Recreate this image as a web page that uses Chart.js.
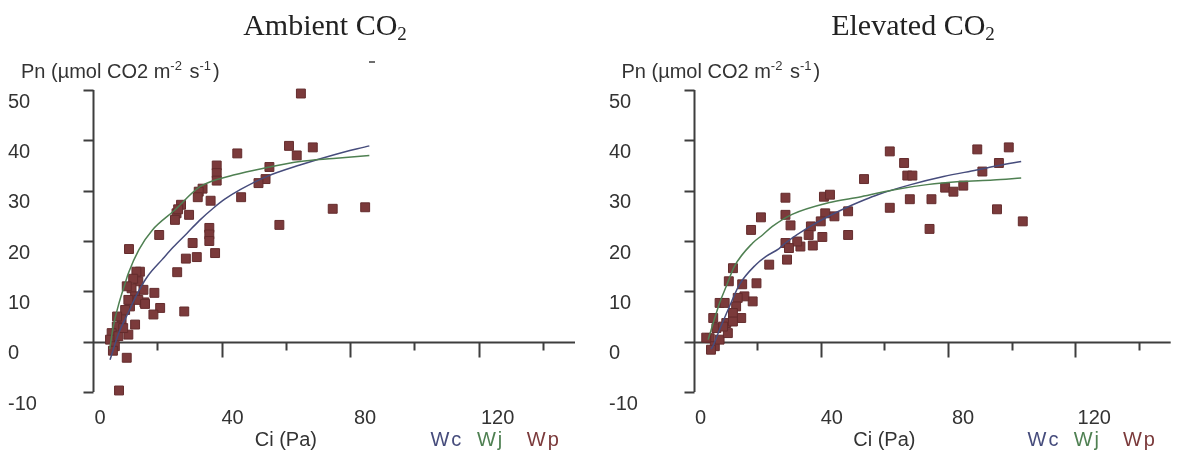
<!DOCTYPE html>
<html>
<head>
<meta charset="utf-8">
<title>Pn vs Ci</title>
<script src="https://cdn.jsdelivr.net/npm/chart.js@4.4.1/dist/chart.umd.min.js"></script>
<style>
  body { margin: 0; background: #fff; }
  #wrap { position: relative; width: 1178px; height: 456px; overflow: hidden; }
  .panel { position: absolute; top: 0; width: 589px; height: 456px; }
</style>
</head>
<body>
<div id="wrap">
  <div class="panel" style="left:0"><canvas id="ambChart" width="589" height="456"></canvas></div>
  <div class="panel" style="left:589px"><canvas id="eleChart" width="589" height="456"></canvas></div>
</div>
<script>
// tick labels
const yTicks = [-10, 0, 10, 20, 30, 40, 50];
const xTicks = [20, 40, 60, 80, 100, 120, 140];
const xLabels = [0, 40, 80, 120];

// Ambient CO2 - measured points
const ambCi = [64.7, 61, 68.4, 63.4, 44.9, 38.5, 38.5, 38.5, 54.9, 53.7, 51.5, 46.1, 36.6, 34.1, 32.9, 32.6,
  27.4, 26, 25.5, 29.9, 36.2, 36.2, 36.2, 58, 74.6, 84.7, 31, 28.9, 32.3, 38, 20.6, 11.2, 14.6, 13.5, 26.2,
  19.1, 20.9, 18.8, 28.4, 16, 13.1, 11, 10.5, 8.1, 14.1, 12, 15.7, 13.1, 11.5, 10, 8.9, 7.4, 5.8, 5.3, 6.8,
  7.9, 9.4, 11, 14.1, 16.2, 26.5, 12.5, 10.5, 7.5, 6.2];
const ambPn = [49.3, 38.9, 38.6, 37, 37.4, 35, 33.5, 32, 34.7, 32.3, 31.5, 28.7, 28, 30.4, 29.8, 28.7,
  27.2, 25.5, 24.2, 25.2, 22.6, 21.3, 20, 23.2, 26.4, 26.7, 19.6, 16.5, 16.8, 17.6, 21.2, 18.4, 13.9, 13.9, 13.8,
  9.7, 6.7, 5.4, 6.0, 7.8, 3.4, 1.4, -3.2, -9.7, 12, 10.6, 10.3, 9, 7, 6.3, 4.4, 3, 1.7, 0.4, -0.9,
  1.1, 2.7, 8.3, 8.3, 7.5, 26.3, 12.5, 11, 5, -1.8];

// Ambient CO2 - fitted curves
const ambWcCi = [5.3, 6, 8, 11, 14, 17, 21.5, 25, 29.2, 33, 37.4, 41, 45.8, 54, 64.4, 74.8, 86];
const ambWcPn = [-3.6, -2.2, 1.7, 5.8, 9.8, 13, 16.3, 18.8, 21.5, 24, 26.5, 28.3, 30.2, 32.8, 35.1, 37.1, 38.9];
const ambWjCi = [5.2, 6.3, 7.9, 10, 11, 14.3, 18.5, 25.2, 33.3, 43.7, 54.9, 64.4, 74.8, 86];
const ambWjPn = [-1.5, 3, 7.2, 11.6, 13.6, 18.3, 22.2, 26, 30.8, 33.1, 34.7, 35.8, 36.4, 37];

// Elevated CO2 - measured points
const eleCi = [61.7, 66.2, 67.2, 68.8, 68, 61.7, 53.6, 74.8, 74.2, 79.1, 81.7, 84.8, 89.2, 90.8, 96, 99.1,
  95.4, 103.5, 48.6, 48.6, 44.3, 41.4, 41, 42.9, 40, 40.5, 36.9, 36.2, 37.5, 33.6, 32.6, 28.9, 30, 29.4,
  28.9, 28.9, 30.5, 21.2, 18.1, 23.8, 12.4, 11.1, 15.3, 19.8, 18.6, 16, 13.9, 13.4, 8.2, 9.8, 15, 12.4,
  10.3, 6.2, 7.2, 5.1, 6.7, 8.2, 10.8, 9.3, 12.4, 5.5, 4];
const elePn = [37.8, 35.5, 33, 33, 28.3, 26.6, 32.3, 28.3, 22.4, 30.6, 29.8, 31, 38.2, 33.8, 35.5, 38.6,
  26.3, 23.9, 21.2, 25.9, 24.9, 25.5, 28.8, 29.2, 23.9, 20.8, 22.9, 21.2, 19.1, 18.9, 19.9, 19.6, 18.6, 16.3,
  28.6, 25.2, 23.1, 24.7, 22.2, 15.3, 14.6, 12, 11.4, 11.6, 8, 9, 8.7, 7, 7.7, 7.7, 4.7, 5.7,
  3.7, 4.7, 2.7, 0.7, -0.9, 0.4, 1.7, 3, 4, -1.6, 0.8];

// Elevated CO2 - fitted curves
const eleWcCi = [5.5, 6.1, 8.2, 11.3, 14.4, 19.6, 22.7, 26.9, 28.9, 37.2, 47.6, 53.8, 57.9, 68.3, 78.6, 89, 96, 103];
const eleWcPn = [-1.5, -0.9, 2.4, 7, 11.3, 15.3, 16.9, 18.5, 19.6, 23.1, 26.5, 28.2, 29.2, 31.2, 32.8, 34.1, 35, 35.8];
const eleWjCi = [4.6, 6.2, 8.2, 10.3, 12.9, 18.6, 21.7, 24.8, 31, 42.4, 52.7, 63.1, 73.4, 83.8, 94.2, 103];
const eleWjPn = [0.4, 3.7, 7.7, 11, 15, 19.6, 21.2, 22.9, 25.3, 27.6, 28.8, 30.2, 31.2, 31.8, 32.1, 32.5];

const wcColor = '#464c7c';
const wjColor = '#4f8052';
const wpColor = '#7b3a3b';
const axisColor = '#3e3e3e';
const sansFont = '"Liberation Sans", Arial, sans-serif';

function pts(xs, ys) {
  return xs.map((v, i) => ({x: v, y: ys[i]}));
}

// draws the axes the way the old plotting program did
const oldAxes = {
  id: 'oldAxes',
  beforeDatasetsDraw(chart, args, opts) {
    const ctx = chart.ctx;
    const x = chart.scales.x, y = chart.scales.y;
    const x0 = Math.round(x.getPixelForValue(0)) + 0.5;
    const y0 = Math.round(y.getPixelForValue(0)) + 0.5;
    ctx.save();
    ctx.strokeStyle = axisColor;
    ctx.lineWidth = 2;
    ctx.beginPath();
    ctx.moveTo(x0, y.getPixelForValue(50));
    ctx.lineTo(x0, y.getPixelForValue(-10));
    yTicks.forEach(v => {
      const py = Math.round(y.getPixelForValue(v)) + 0.5;
      ctx.moveTo(x0 - 10, py);
      ctx.lineTo(x0, py);
    });
    ctx.moveTo(x0 - 10, y0);
    ctx.lineTo(x.getPixelForValue(150), y0);
    xTicks.forEach(v => {
      const px = Math.round(x.getPixelForValue(v)) + 0.5;
      ctx.moveTo(px, y0);
      ctx.lineTo(px, y0 + (v % 40 === 0 ? 15 : 8));
    });
    ctx.stroke();
    if (opts.dash) {
      ctx.lineWidth = 1.5;
      ctx.beginPath();
      ctx.moveTo(opts.dash[0] - 3, opts.dash[1]);
      ctx.lineTo(opts.dash[0] + 3, opts.dash[1]);
      ctx.stroke();
    }
    ctx.restore();
  },
  afterDraw(chart, args, opts) {
    const ctx = chart.ctx;
    const x = chart.scales.x, y = chart.scales.y;
    const x0 = x.getPixelForValue(0);
    ctx.save();
    ctx.fillStyle = '#333';
    ctx.font = '20px ' + sansFont;
    ctx.textBaseline = 'middle';
    ctx.textAlign = 'left';
    yTicks.forEach(v => {
      ctx.fillText(String(v), opts.yLabelX, y.getPixelForValue(v) + 12);
    });
    ctx.textAlign = 'center';
    xLabels.forEach(v => {
      ctx.fillText(String(v), x.getPixelForValue(v) + 7 + v * 0.1, 418);
    });
    ctx.fillText('Ci (Pa)', x.getPixelForValue(60), 440);
    ctx.textAlign = 'left';
    ctx.letterSpacing = '2px';
    ctx.fillStyle = wcColor;
    ctx.fillText('Wc', x.getPixelForValue(105), 440);
    ctx.fillStyle = wjColor;
    ctx.fillText('Wj', x.getPixelForValue(119.5), 440);
    ctx.fillStyle = wpColor;
    ctx.fillText('Wp', x.getPixelForValue(135), 440);
    ctx.letterSpacing = '0px';

    // y axis title with superscripts
    ctx.fillStyle = '#333';
    let px = x0 - 72;
    const py = 72;
    const parts = [['Pn (µmol CO2 m', false], ['-2', true], [' s', false], ['-1', true], [')', false]];
    parts.forEach(p => {
      ctx.font = (p[1] ? '13px ' : '20px ') + sansFont;
      ctx.fillText(p[0], px, p[1] ? py - 6 : py);
      px += ctx.measureText(p[0]).width + (p[1] ? 2 : 0);
    });

    // title with subscript
    ctx.fillStyle = '#222';
    ctx.font = '30px "Liberation Serif", "Times New Roman", serif';
    ctx.textBaseline = 'alphabetic';
    const main = opts.title;
    const wMain = ctx.measureText(main).width;
    ctx.font = '19px "Liberation Serif", "Times New Roman", serif';
    const wSub = ctx.measureText('2').width;
    let tx = opts.titleX - (wMain + wSub) / 2;
    ctx.font = '30px "Liberation Serif", "Times New Roman", serif';
    ctx.fillText(main, tx, 35);
    ctx.font = '19px "Liberation Serif", "Times New Roman", serif';
    ctx.fillText('2', tx + wMain, 40);
    ctx.restore();
  }
};

function makeChart(id, ci, pn, wcCi, wcPn, wjCi, wjPn, pad, opts) {
  return new Chart(document.getElementById(id), {
    type: 'scatter',
    data: {
      datasets: [
        {
          label: 'Wj', data: pts(wjCi, wjPn), showLine: true, pointRadius: 0,
          borderColor: wjColor, borderWidth: 1.5, cubicInterpolationMode: 'monotone', clip: false
        },
        {
          label: 'Wc', data: pts(wcCi, wcPn), showLine: true, pointRadius: 0,
          borderColor: wcColor, borderWidth: 1.5, cubicInterpolationMode: 'monotone', clip: false
        },
        {
          label: 'Wp', data: pts(ci, pn), pointStyle: 'rect', pointRadius: 6.3,
          backgroundColor: wpColor, borderColor: '#642c2d', borderWidth: 1, clip: false
        }
      ]
    },
    options: {
      responsive: false,
      animation: false,
      events: [],
      layout: {padding: pad},
      scales: {
        x: {type: 'linear', min: 0, max: 150, display: false},
        y: {type: 'linear', min: -10, max: 50, display: false}
      },
      plugins: {
        legend: {display: false},
        tooltip: {enabled: false},
        oldAxes: opts
      }
    },
    plugins: [oldAxes]
  });
}

makeChart('ambChart', ambCi, ambPn, ambWcCi, ambWcPn, ambWjCi, ambWjPn,
  {left: 93, right: 14, top: 90, bottom: 64},
  {yLabelX: 8, titleX: 325, title: 'Ambient CO', dash: [372, 62]});
makeChart('eleChart', eleCi, elePn, eleWcCi, eleWcPn, eleWjCi, eleWjPn,
  {left: 104.5, right: 1.5, top: 90, bottom: 64},
  {yLabelX: 20, titleX: 324, title: 'Elevated CO'});
</script>
</body>
</html>
